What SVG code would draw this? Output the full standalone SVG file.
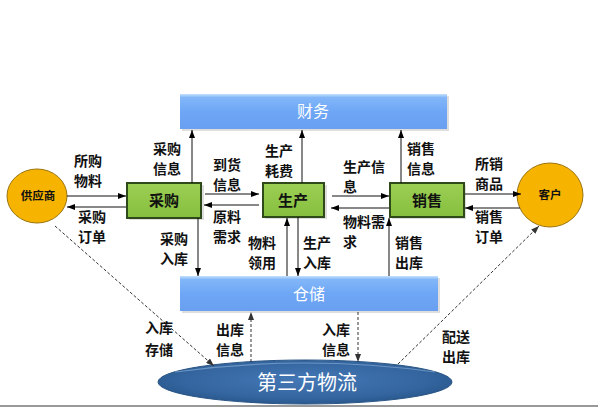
<svg xmlns="http://www.w3.org/2000/svg" width="605" height="415" viewBox="0 0 605 415">
<defs>
<linearGradient id="gBar" x1="0" y1="0" x2="0" y2="1">
<stop offset="0" stop-color="#c4e2fd"/>
<stop offset="0.1" stop-color="#82b6f8"/>
<stop offset="0.5" stop-color="#6ea7f6"/>
<stop offset="1" stop-color="#6a9ff0"/>
</linearGradient>
<radialGradient id="gEll" cx="0.5" cy="0.45" r="0.6">
<stop offset="0" stop-color="#4478b6"/>
<stop offset="0.7" stop-color="#34659f"/>
<stop offset="1" stop-color="#255487"/>
</radialGradient>
<linearGradient id="gGreen" x1="0" y1="0" x2="0" y2="1">
<stop offset="0" stop-color="#9ccf55"/>
<stop offset="1" stop-color="#86bf3e"/>
</linearGradient>
<marker id="ah" markerUnits="userSpaceOnUse" markerWidth="8" markerHeight="6" refX="8" refY="3" orient="auto">
<path d="M0,0 L8,3 L0,6 z" fill="#000"/>
</marker>
<marker id="ahd" markerUnits="userSpaceOnUse" markerWidth="8" markerHeight="6" refX="8" refY="3" orient="auto">
<path d="M0,0 L8,3 L0,6 z" fill="#333"/>
</marker>
</defs>
<style>
.lb{font-family:"Noto Sans CJK SC","Noto Sans",sans-serif;font-weight:bold;font-size:14px;fill:#111}
.bx{font-family:"Noto Sans CJK SC","Noto Sans",sans-serif;font-weight:bold;font-size:15px;fill:#111;text-anchor:middle}
.cl{font-family:"Noto Sans CJK SC","Noto Sans",sans-serif;font-weight:bold;font-size:11.5px;fill:#111;text-anchor:middle}
.wt{font-family:"Noto Sans CJK SC","Noto Sans",sans-serif;font-size:16px;fill:#fff;text-anchor:middle}
.bar{fill:url(#gBar)}
.shadow{fill:#c8c8c8;opacity:0.6}
.gbox{fill:url(#gGreen);stroke:#2f4a18;stroke-width:2}
.circ{fill:#f6b300;stroke:#9c7410;stroke-width:1}
.ln{fill:none;stroke:#111;stroke-width:1;marker-end:url(#ah)}
.dl{fill:none;stroke:#333;stroke-width:1;stroke-dasharray:3,2;marker-end:url(#ahd)}
</style>
<rect width="605" height="415" fill="#fff"/>

<g id="finance">
<rect class="shadow" x="182" y="96" width="267" height="35"/>
<rect class="bar" x="180" y="94" width="267" height="35"/>
<text class="wt" x="313" y="117">财务</text>
</g>

<g id="warehouse">
<rect class="shadow" x="182" y="278" width="258" height="35"/>
<rect class="bar" x="180" y="276" width="258" height="35"/>
<text class="wt" x="309" y="300">仓储</text>
</g>

<g id="purchase">
<rect class="shadow" x="129" y="185" width="75" height="35"/>
<rect class="gbox" x="127" y="183" width="74" height="35"/>
<text class="bx" x="164" y="206">采购</text>
</g>

<g id="production">
<rect class="shadow" x="265" y="185" width="62" height="34"/>
<rect class="gbox" x="263" y="183" width="61" height="34"/>
<text class="bx" x="293" y="206">生产</text>
</g>

<g id="sales">
<rect class="shadow" x="392" y="185" width="74" height="34"/>
<rect class="gbox" x="390" y="183" width="74" height="34"/>
<text class="bx" x="427" y="206">销售</text>
</g>

<g id="supplier">
<ellipse class="circ" cx="37" cy="196" rx="30" ry="27"/>
<text class="cl" x="38" y="200">供应商</text>
</g>

<g id="customer">
<ellipse class="circ" cx="550" cy="195" rx="33" ry="32"/>
<text class="cl" x="550" y="199">客户</text>
</g>

<g id="logistics">
<ellipse cx="305" cy="382" rx="147" ry="22" fill="url(#gEll)" stroke="#2a5585" stroke-width="1"/>
<path d="M175,372 Q305,354 435,372" fill="none" stroke="#8fb4dc" stroke-width="1.2" opacity="0.6"/>
<text x="307" y="390" font-family="Noto Sans CJK SC, sans-serif" font-size="20" fill="#fff" text-anchor="middle">第三方物流</text>
</g>

<g id="connectors">
<path class="ln" d="M67,196 H126"/>
<path class="ln" d="M126,207 H67"/>
<path class="ln" d="M205,194 H259"/>
<path class="ln" d="M259,205 H204"/>
<path class="ln" d="M332,196 H389"/>
<path class="ln" d="M389,208 H331"/>
<path class="ln" d="M465,194 H521"/>
<path class="ln" d="M520,208 H465"/>
<path class="ln" d="M192,183 V130"/>
<path class="ln" d="M198,218 V276"/>
<path class="ln" d="M302,183 V130"/>
<path class="ln" d="M287,276 V218"/>
<path class="ln" d="M298,217 V276"/>
<path class="ln" d="M401,183 V130"/>
<path class="ln" d="M389,276 V218"/>
<path class="dl" d="M55,226 L214,366"/>
<path class="dl" d="M251,362 V312"/>
<path class="dl" d="M358,312 V362"/>
<path class="dl" d="M398,364 L539,226"/>
</g>

<g id="labels">
<text class="lb" x="74" y="166">所购</text><text class="lb" x="74" y="186">物料</text>
<text class="lb" x="78" y="222">采购</text><text class="lb" x="78" y="242">订单</text>
<text class="lb" x="153" y="154">采购</text><text class="lb" x="153" y="174">信息</text>
<text class="lb" x="213" y="170">到货</text><text class="lb" x="213" y="190">信息</text>
<text class="lb" x="213" y="222">原料</text><text class="lb" x="213" y="242">需求</text>
<text class="lb" x="160" y="244">采购</text><text class="lb" x="160" y="264">入库</text>
<text class="lb" x="265" y="156">生产</text><text class="lb" x="265" y="176">耗费</text>
<text class="lb" x="248" y="248">物料</text><text class="lb" x="248" y="268">领用</text>
<text class="lb" x="303" y="248">生产</text><text class="lb" x="303" y="268">入库</text>
<text class="lb" x="343" y="172">生产信</text><text class="lb" x="343" y="192">息</text>
<text class="lb" x="343" y="227">物料需</text><text class="lb" x="343" y="247">求</text>
<text class="lb" x="407" y="154">销售</text><text class="lb" x="407" y="174">信息</text>
<text class="lb" x="395" y="248">销售</text><text class="lb" x="395" y="268">出库</text>
<text class="lb" x="475" y="169">所销</text><text class="lb" x="475" y="189">商品</text>
<text class="lb" x="475" y="222">销售</text><text class="lb" x="475" y="242">订单</text>
<text class="lb" x="145" y="333">入库</text><text class="lb" x="145" y="355">存储</text>
<text class="lb" x="216" y="335">出库</text><text class="lb" x="216" y="355">信息</text>
<text class="lb" x="322" y="335">入库</text><text class="lb" x="322" y="355">信息</text>
<text class="lb" x="442" y="342">配送</text><text class="lb" x="442" y="362">出库</text>
</g>

<line x1="0" y1="406" x2="598" y2="406" stroke="#777" stroke-width="1.5"/>
</svg>
